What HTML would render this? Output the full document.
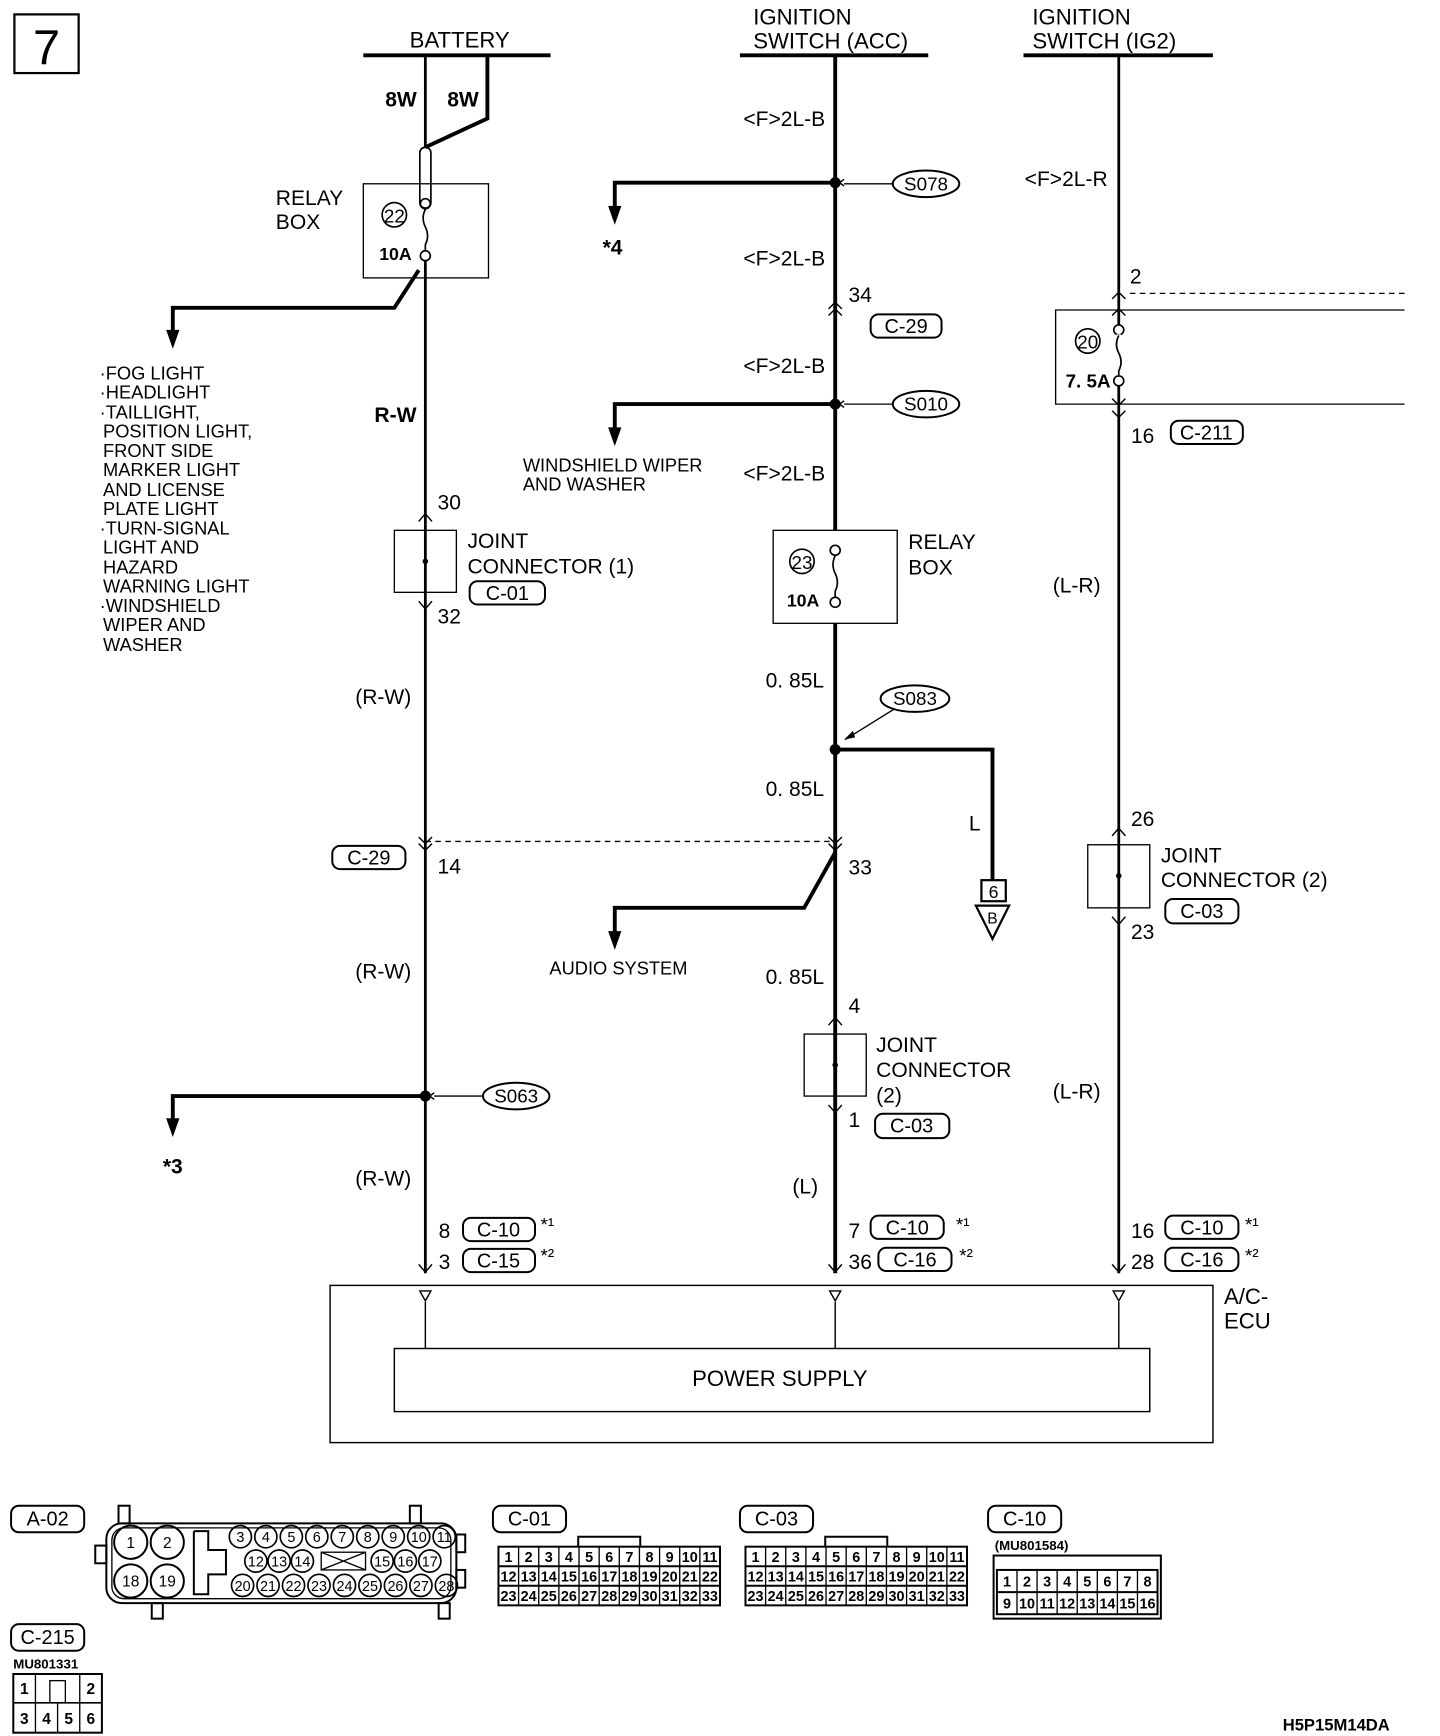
<!DOCTYPE html>
<html><head><meta charset="utf-8"><style>
html,body{margin:0;padding:0;background:#fff;}
svg{display:block;}
text{font-family:"Liberation Sans Narrow","Liberation Sans",sans-serif;fill:#000;}
</style></head><body>
<svg id="s" width="1440" height="1736" viewBox="0 0 1300 1568" preserveAspectRatio="none" xmlns="http://www.w3.org/2000/svg">
<rect x="0" y="0" width="1300" height="1568" fill="#fff"/>
<g fill="none" stroke="#000" stroke-width="2">
<rect x="13" y="13" width="58" height="53"/>
</g>
<text x="42" y="58" font-size="44" text-anchor="middle">7</text>

<!-- top bars -->
<g stroke="#000" stroke-width="3.5">
<line x1="328" y1="50" x2="497" y2="50"/>
<line x1="668" y1="50" x2="838" y2="50"/>
<line x1="924" y1="50" x2="1095" y2="50"/>
</g>
<g font-size="20">
<text x="415" y="43" text-anchor="middle">BATTERY</text>
<text x="680" y="22">IGNITION</text>
<text x="680" y="44">SWITCH (ACC)</text>
<text x="932" y="22">IGNITION</text>
<text x="932" y="44">SWITCH (IG2)</text>
</g>

<!-- left wire -->
<g fill="none" stroke="#000">
<line x1="384" y1="50" x2="384" y2="133" stroke-width="2.5"/>
<polyline points="440,50 440,107 384,133" stroke-width="3.5"/>
<rect x="379" y="133" width="10" height="55" rx="5" stroke-width="1.5"/>
<rect x="328" y="166" width="113" height="85" stroke-width="1.2"/>
<circle cx="356" cy="194" r="11" stroke-width="1.5"/>
<circle cx="384" cy="184" r="4.5" stroke-width="1.5"/>
<circle cx="384" cy="231" r="4.5" stroke-width="1.5"/>
<path d="M384,189 q-4,8 0,16 q4,8 0,16 v5" stroke-width="1.5"/>
<line x1="384" y1="236" x2="384" y2="1150" stroke-width="2.5"/>
<polyline points="378,244 356,278 156,278 156,300" stroke-width="3.5"/>
<rect x="356" y="479" width="56" height="56" stroke-width="1.2"/>
<line x1="384" y1="760" x2="754" y2="760" stroke-width="1.2" stroke-dasharray="5,4"/>
<polyline points="384,990 156,990 156,1012" stroke-width="3.5"/>
<line x1="436" y1="990" x2="392" y2="990" stroke-width="1.2"/>
</g>
<g fill="#000">
<polygon points="150,298 162,298 156,315"/>
<polygon points="150,1010 162,1010 156,1027"/>
<circle cx="384" cy="507" r="2.5"/>
<circle cx="384" cy="990" r="5"/>
</g>
<g fill="none" stroke="#000" stroke-width="1.3">
<polyline points="378,471 384,464 390,471"/><polyline points="378,543 384,550 390,543"/>
<polyline points="378,756 384,762 390,756"/><polyline points="378,762 384,768 390,762"/>
<polyline points="378,1142 384,1149 390,1142"/>
<polyline points="392,987 388,990 392,993"/>
</g>
<g font-size="19">
<text x="362" y="96" text-anchor="middle" font-weight="bold">8W</text>
<text x="418" y="96" text-anchor="middle" font-weight="bold">8W</text>
<text x="249" y="185">RELAY</text><text x="249" y="207">BOX</text>
<text x="356" y="201" text-anchor="middle" font-size="17">22</text>
<text x="357" y="235" text-anchor="middle" font-size="16" font-weight="bold">10A</text>
<text x="357" y="381" text-anchor="middle" font-weight="bold">R-W</text>
<text x="395" y="460">30</text><text x="395" y="563">32</text>
<text x="422" y="495">JOINT</text><text x="422" y="518">CONNECTOR (1)</text>
<text x="346" y="636" text-anchor="middle">(R-W)</text>
<text x="395" y="789">14</text>
<text x="346" y="884" text-anchor="middle">(R-W)</text>
<text x="156" y="1060" text-anchor="middle" font-weight="bold">*3</text>
<text x="346" y="1071" text-anchor="middle">(R-W)</text>
<text x="396" y="1118">8</text><text x="396" y="1146">3</text>
<text x="488" y="1112" font-size="17">*¹</text><text x="488" y="1140" font-size="17">*²</text>
</g>
<g font-size="16.5">
<text x="90" y="343">·FOG LIGHT</text>
<text x="90" y="360">·HEADLIGHT</text>
<text x="90" y="378">·TAILLIGHT,</text>
<text x="93" y="395">POSITION LIGHT,</text>
<text x="93" y="413">FRONT SIDE</text>
<text x="93" y="430">MARKER LIGHT</text>
<text x="93" y="448">AND LICENSE</text>
<text x="93" y="465">PLATE LIGHT</text>
<text x="90" y="483">·TURN-SIGNAL</text>
<text x="93" y="500">LIGHT AND</text>
<text x="93" y="518">HAZARD</text>
<text x="93" y="535">WARNING LIGHT</text>
<text x="90" y="553">·WINDSHIELD</text>
<text x="93" y="570">WIPER AND</text>
<text x="93" y="588">WASHER</text>
</g>

<!-- middle wire -->
<g fill="none" stroke="#000">
<line x1="754" y1="50" x2="754" y2="479" stroke-width="3.5"/>
<line x1="754" y1="563" x2="754" y2="1150" stroke-width="3.5"/>
<polyline points="754,165 555,165 555,188" stroke-width="3.5"/>
<polyline points="754,365 555,365 555,388" stroke-width="3.5"/>
<rect x="698" y="479" width="112" height="84" stroke-width="1.2"/>
<circle cx="724" cy="507" r="11" stroke-width="1.5"/>
<circle cx="754" cy="497" r="4.5" stroke-width="1.5"/>
<circle cx="754" cy="544" r="4.5" stroke-width="1.5"/>
<path d="M754,502 q-4,8 0,16 q4,8 0,16 v5" stroke-width="1.5"/>
<polyline points="754,677 896,677 896,795" stroke-width="3.5"/>
<polyline points="754,770 726,820 555,820 555,843" stroke-width="3.5"/>
<rect x="886" y="795" width="22" height="19" stroke-width="2"/>
<polygon points="881,818 911,818 896,848" stroke-width="2"/>
<rect x="726" y="934" width="56" height="56" stroke-width="1.2"/>
<line x1="806" y1="166" x2="762" y2="166" stroke-width="1.2"/>
<line x1="806" y1="365" x2="762" y2="365" stroke-width="1.2"/>
<line x1="808" y1="640" x2="763" y2="668" stroke-width="1.2"/>
</g>
<g fill="#000">
<circle cx="754" cy="165" r="5"/><circle cx="754" cy="365" r="5"/><circle cx="754" cy="677" r="5"/>
<polygon points="549,186 561,186 555,203"/>
<polygon points="549,386 561,386 555,403"/>
<polygon points="549,841 561,841 555,858"/>
<circle cx="754" cy="962" r="2.5"/>
<polygon points="762,668 770,660 772,666"/>
</g>
<g fill="none" stroke="#000" stroke-width="1.3">
<polyline points="762,162 758,165 762,168"/><polyline points="762,362 758,365 762,368"/>
<polyline points="748,279 754,273 760,279"/><polyline points="748,285 754,279 760,285"/>
<polyline points="748,756 754,762 760,756"/><polyline points="748,762 754,768 760,762"/>
<polyline points="748,926 754,919 760,926"/><polyline points="748,998 754,1005 760,998"/>
<polyline points="748,1142 754,1149 760,1142"/>
</g>
<g font-size="19">
<text x="745" y="114" text-anchor="end">&lt;F&gt;2L-B</text>
<text x="745" y="240" text-anchor="end">&lt;F&gt;2L-B</text>
<text x="745" y="337" text-anchor="end">&lt;F&gt;2L-B</text>
<text x="745" y="434" text-anchor="end">&lt;F&gt;2L-B</text>
<text x="553" y="230" text-anchor="middle" font-weight="bold">*4</text>
<text x="766" y="273">34</text>
<text x="472" y="426" font-size="16.5">WINDSHIELD WIPER</text>
<text x="472" y="443" font-size="16.5">AND WASHER</text>
<text x="724" y="514" text-anchor="middle" font-size="17">23</text>
<text x="725" y="548" text-anchor="middle" font-size="16" font-weight="bold">10A</text>
<text x="820" y="496">RELAY</text><text x="820" y="519">BOX</text>
<text x="744" y="621" text-anchor="end">0. 85L</text>
<text x="744" y="719" text-anchor="end">0. 85L</text>
<text x="744" y="889" text-anchor="end">0. 85L</text>
<text x="880" y="750" text-anchor="middle">L</text>
<text x="897" y="811" text-anchor="middle" font-size="16">6</text>
<text x="896" y="834" text-anchor="middle" font-size="14">B</text>
<text x="766" y="790">33</text>
<text x="496" y="880" font-size="16.5">AUDIO SYSTEM</text>
<text x="766" y="915">4</text><text x="766" y="1018">1</text>
<text x="791" y="950">JOINT</text><text x="791" y="973">CONNECTOR</text><text x="791" y="996">(2)</text>
<text x="727" y="1078" text-anchor="middle">(L)</text>
<text x="766" y="1118">7</text><text x="766" y="1146">36</text>
<text x="863" y="1112" font-size="17">*¹</text><text x="866" y="1140" font-size="17">*²</text>
</g>

<!-- right wire -->
<g fill="none" stroke="#000">
<line x1="1010" y1="50" x2="1010" y2="1150" stroke-width="2.5"/>
<line x1="1020" y1="265" x2="1268" y2="265" stroke-width="1.2" stroke-dasharray="5,4"/>
<polyline points="1268,280 953,280 953,365 1268,365" stroke-width="1.2"/>
<circle cx="982" cy="308" r="11" stroke-width="1.5"/>
<circle cx="1010" cy="298" r="4.5" stroke-width="1.5" fill="#fff"/>
<circle cx="1010" cy="344" r="4.5" stroke-width="1.5" fill="#fff"/>
<path d="M1010,303 q-4,8 0,16 q4,8 0,16 v4" stroke-width="1.5" fill="#fff"/>
<rect x="982" y="763" width="56" height="57" stroke-width="1.2"/>
</g>
<rect x="1008" y="302" width="4" height="37" fill="#fff"/>
<path d="M1010,303 q-4,8 0,16 q4,8 0,16 v4" stroke="#000" stroke-width="1.5" fill="none"/>
<circle cx="1010" cy="791" r="2.5" fill="#000"/>
<g fill="none" stroke="#000" stroke-width="1.3">
<polyline points="1004,270 1010,264 1016,270"/><polyline points="1004,285 1010,279 1016,285"/>
<polyline points="1004,360 1010,366 1016,360"/><polyline points="1004,371 1010,377 1016,371"/>
<polyline points="1004,755 1010,748 1016,755"/><polyline points="1004,828 1010,835 1016,828"/>
<polyline points="1004,1142 1010,1149 1016,1142"/>
</g>
<g font-size="19">
<text x="1000" y="168" text-anchor="end">&lt;F&gt;2L-R</text>
<text x="1020" y="256">2</text>
<text x="982" y="315" text-anchor="middle" font-size="17">20</text>
<text x="962" y="350" font-size="17" font-weight="bold">7. 5A</text>
<text x="1021" y="400">16</text>
<text x="972" y="535" text-anchor="middle">(L-R)</text>
<text x="1021" y="746">26</text>
<text x="1048" y="779">JOINT</text><text x="1048" y="801">CONNECTOR (2)</text>
<text x="1021" y="848">23</text>
<text x="972" y="992" text-anchor="middle">(L-R)</text>
<text x="1021" y="1118">16</text><text x="1021" y="1146">28</text>
<text x="1124" y="1112" font-size="17">*¹</text><text x="1124" y="1140" font-size="17">*²</text>
</g>

<!-- labels (rounded) -->
<g fill="none" stroke="#000" stroke-width="1.8">
<rect x="424" y="525" width="68" height="21" rx="7"/>
<rect x="300" y="764" width="66" height="21" rx="7"/>
<rect x="418" y="1100" width="65" height="21" rx="7"/>
<rect x="418" y="1128" width="65" height="21" rx="7"/>
<rect x="786" y="284" width="64" height="21" rx="7"/>
<rect x="790" y="1006" width="67" height="22" rx="7"/>
<rect x="786" y="1098" width="66" height="21" rx="7"/>
<rect x="793" y="1127" width="66" height="21" rx="7"/>
<rect x="1057" y="380" width="65" height="21" rx="7"/>
<rect x="1052" y="812" width="66" height="22" rx="7"/>
<rect x="1052" y="1098" width="66" height="21" rx="7"/>
<rect x="1052" y="1127" width="66" height="21" rx="7"/>
<ellipse cx="836" cy="166" rx="30" ry="12"/>
<ellipse cx="836" cy="365" rx="30" ry="12"/>
<ellipse cx="826" cy="631" rx="31" ry="12"/>
<ellipse cx="466" cy="990" rx="30" ry="12"/>
</g>
<g font-size="18" text-anchor="middle">
<text x="458" y="542">C-01</text><text x="333" y="781">C-29</text>
<text x="450" y="1117">C-10</text><text x="450" y="1145">C-15</text>
<text x="818" y="301">C-29</text><text x="823" y="1023">C-03</text>
<text x="819" y="1115">C-10</text><text x="826" y="1144">C-16</text>
<text x="1089" y="397">C-211</text><text x="1085" y="829">C-03</text>
<text x="1085" y="1115">C-10</text><text x="1085" y="1144">C-16</text>
<text x="836" y="172" font-size="17">S078</text><text x="836" y="371" font-size="17">S010</text>
<text x="826" y="637" font-size="17">S083</text><text x="466" y="996" font-size="17">S063</text>
</g>

<!-- ECU -->
<g fill="none" stroke="#000" stroke-width="1.3">
<rect x="298" y="1161" width="797" height="142"/>
<rect x="356" y="1218" width="682" height="57"/>
<line x1="384" y1="1176" x2="384" y2="1218"/>
<line x1="754" y1="1176" x2="754" y2="1218"/>
<line x1="1010" y1="1176" x2="1010" y2="1218"/>
<polygon points="379,1166 389,1166 384,1175"/>
<polygon points="749,1166 759,1166 754,1175"/>
<polygon points="1005,1166 1015,1166 1010,1175"/>
</g>
<g font-size="20">
<text x="1105" y="1178">A/C-</text><text x="1105" y="1200">ECU</text>
<text x="704" y="1252" text-anchor="middle">POWER SUPPLY</text>
</g>

<!-- bottom connectors -->
<g fill="none" stroke="#000" stroke-width="1.8">
<rect x="10" y="1360" width="66" height="24" rx="7"/>
<rect x="445" y="1360" width="66" height="24" rx="7"/>
<rect x="668" y="1360" width="66" height="24" rx="7"/>
<rect x="892" y="1360" width="66" height="24" rx="7"/>
<rect x="10" y="1467" width="66" height="24" rx="7"/>
<rect x="96" y="1376" width="316" height="72" rx="14"/>
<rect x="101" y="1380" width="306" height="64" rx="11" stroke-width="1.2"/>
<rect x="107" y="1360" width="10" height="16"/><rect x="370" y="1360" width="10" height="16"/>
<rect x="137" y="1448" width="10" height="14"/><rect x="396" y="1448" width="10" height="14"/>
<rect x="86" y="1396" width="10" height="16"/><rect x="412" y="1386" width="8" height="16"/><rect x="412" y="1418" width="8" height="16"/>
<polyline points="175,1383 188,1383 188,1400 204,1400 204,1422 188,1422 188,1440 175,1440 175,1383"/>
<circle cx="118" cy="1393" r="15"/><circle cx="151" cy="1393" r="15"/>
<circle cx="118" cy="1428" r="15"/><circle cx="151" cy="1428" r="15"/>
<rect x="290" y="1402" width="40" height="16" stroke-width="1.2"/>
<path d="M290,1402 L330,1418 M330,1402 L290,1418" stroke-width="1.2"/>
<polyline points="522,1397 522,1388 578,1388 578,1397"/>
<polyline points="745,1397 745,1388 801,1388 801,1397"/>
<rect x="897" y="1405" width="151" height="57"/>
<rect x="12" y="1512" width="80" height="53"/>
</g>
<g font-size="18" text-anchor="middle">
<text x="43" y="1378">A-02</text><text x="478" y="1378">C-01</text>
<text x="701" y="1378">C-03</text><text x="925" y="1378">C-10</text>
<text x="43" y="1485">C-215</text>
</g>
<text x="898" y="1400" font-size="12" font-weight="bold">(MU801584)</text>
<text x="12" y="1507" font-size="12" font-weight="bold">MU801331</text>
<text x="1158" y="1563" font-size="15" font-weight="bold">H5P15M14DA</text>
<g font-size="14" text-anchor="middle">
<text x="118" y="1398">1</text><text x="151" y="1398">2</text>
<text x="118" y="1433">18</text><text x="151" y="1433">19</text>
</g>
<g id="dyn"></g>
</svg>
<script>
(function(){
var NS="http://www.w3.org/2000/svg",g=document.getElementById("dyn");
function el(t,a,txt){var e=document.createElementNS(NS,t);for(var k in a)e.setAttribute(k,a[k]);if(txt!=null)e.textContent=txt;g.appendChild(e);return e;}
function grid(x,y,w,h,cols,rows,start){
 var cw=w/cols,rh=h/rows;
 el("rect",{x:x,y:y,width:w,height:h,fill:"none",stroke:"#000","stroke-width":1.8});
 for(var c=1;c<cols;c++)el("line",{x1:x+c*cw,y1:y,x2:x+c*cw,y2:y+h,stroke:"#000","stroke-width":1.2});
 for(var r=1;r<rows;r++)el("line",{x1:x,y1:y+r*rh,x2:x+w,y2:y+r*rh,stroke:"#000","stroke-width":1.8});
 var n=start;
 for(var r=0;r<rows;r++)for(var c=0;c<cols;c++){el("text",{x:x+c*cw+cw/2,y:y+r*rh+rh/2+5,"font-size":13,"text-anchor":"middle","font-weight":"bold"},n++);}
}
grid(450,1397,200,53,11,3,1);
grid(673,1397,200,53,11,3,1);
grid(900,1418,145,40,8,2,1);
// C-215
el("line",{x1:12,y1:1538,x2:92,y2:1538,stroke:"#000","stroke-width":1.5});
for(var i=1;i<4;i++)el("line",{x1:12+i*20,y1:1538,x2:12+i*20,y2:1565,stroke:"#000","stroke-width":1.2});
el("line",{x1:32,y1:1512,x2:32,y2:1538,stroke:"#000","stroke-width":1.2});
el("line",{x1:72,y1:1512,x2:72,y2:1538,stroke:"#000","stroke-width":1.2});
el("rect",{x:45,y:1518,width:14,height:20,fill:"none",stroke:"#000","stroke-width":1.2});
[[22,1530,"1"],[82,1530,"2"],[22,1557,"3"],[42,1557,"4"],[62,1557,"5"],[82,1557,"6"]].forEach(function(a){el("text",{x:a[0],y:a[1],"font-size":14,"text-anchor":"middle","font-weight":"bold"},a[2]);});
// A-02 small circles
function sc(cx,cy,n){el("circle",{cx:cx,cy:cy,r:10,fill:"none",stroke:"#000","stroke-width":1.5});el("text",{x:cx,y:cy+5,"font-size":13,"text-anchor":"middle"},n);}
for(var i=0;i<9;i++)sc(217+i*23,1388,3+i);
sc(231,1410,12);sc(252,1410,13);sc(273,1410,14);
sc(345,1410,15);sc(366,1410,16);sc(388,1410,17);
for(var i=0;i<9;i++)sc(219+i*23,1432,20+i);
})();
</script>
</body></html>
